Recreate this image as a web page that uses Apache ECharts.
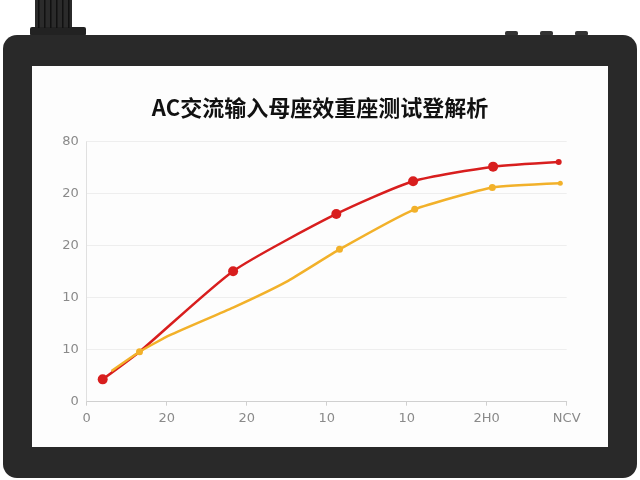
<!DOCTYPE html>
<html>
<head>
<meta charset="utf-8">
<script src="https://cdn.jsdelivr.net/npm/echarts@6/dist/echarts.min.js"></script>
<style>
  html, body { margin: 0; padding: 0; background: #fff; }
  #chart { width: 640px; height: 480px; }
</style>
</head>
<body>
<div id="chart"></div>
<script>
// 标题与刻度文字
let titleText = 'AC交流输入母座效重座测试登解析';
let xLabels = ['0', '20', '20', '10', '10', '2H0', 'NCV'];
let yLabels = ['0', '10', '10', '20', '20', '80'];

// 红线 (x 为刻度位置)
let redX = [0.2, 0.66, 1.83, 3.12, 4.08, 5.08, 5.9];
let redY = [4.3, 9.6, 25.1, 36.1, 42.4, 45.2, 46.1];

// 黄线
let yellowX = [0.31, 0.66, 1.04, 1.83, 2.5, 3.16, 4.1, 5.07, 5.92];
let yellowY = [5.9, 9.6, 12.8, 18.1, 23.1, 29.3, 37.0, 41.2, 42.0];

let redData = redX.map(function (x, i) { return [x, redY[i]]; });
let yellowData = yellowX.map(function (x, i) { return [x, yellowY[i]]; });

// 黄线上显示圆点的下标
let yellowDots = [1, 5, 6, 7, 8];

let chart = echarts.init(document.getElementById('chart'));

// 外框（显示器）
let bezel = [
    {type: 'rect', z: -10, shape: {x: 35, y: 0, width: 37, height: 30},
        style: {fill: '#2b2b2b'}},
    {type: 'rect', z: -10, shape: {x: 30, y: 27, width: 56, height: 9, r: 2},
        style: {fill: '#222'}},
    {type: 'rect', z: -10, shape: {x: 505, y: 31, width: 13, height: 5, r: 2}, style: {fill: '#333'}},
    {type: 'rect', z: -10, shape: {x: 540, y: 31, width: 13, height: 5, r: 2}, style: {fill: '#333'}},
    {type: 'rect', z: -10, shape: {x: 575, y: 31, width: 13, height: 5, r: 2}, style: {fill: '#333'}},
    {type: 'rect', z: -9, shape: {x: 3, y: 35, width: 634, height: 443, r: 14},
        style: {fill: '#292929'}},
    {type: 'rect', z: -8, shape: {x: 32, y: 66, width: 576, height: 381},
        style: {fill: '#fdfdfd'}}
];
// 旋钮上的竖纹
for (let i = 0; i < 6; i++) {
    bezel.push({type: 'rect', z: -9, shape: {x: 38 + i * 6, y: 0, width: 1.5, height: 28},
        style: {fill: '#111'}});
}

let option = {
    backgroundColor: '#fff',
    animation: false,
    graphic: bezel,
    title: {
        text: titleText,
        left: 'center',
        top: 92,
        textStyle: {
            fontFamily: 'Noto Sans CJK SC',
            fontSize: 22,
            fontWeight: 'bold',
            color: '#111'
        }
    },
    grid: {left: 86.7, right: 73.3, top: 141.7, bottom: 78.3},
    xAxis: {
        type: 'value',
        min: 0,
        max: 6,
        interval: 1,
        axisLine: {show: true, lineStyle: {color: '#d0d0d0'}},
        axisTick: {show: true, length: 4, lineStyle: {color: '#d0d0d0'}},
        splitLine: {show: false},
        axisLabel: {
            margin: 10,
            color: '#8a8a8a',
            fontSize: 13,
            fontFamily: 'DejaVu Sans',
            formatter: function (v) { return xLabels[Math.round(v)]; }
        }
    },
    yAxis: {
        type: 'value',
        min: 0,
        max: 50,
        interval: 10,
        axisLine: {show: true, lineStyle: {color: '#e0e0e0'}},
        axisTick: {show: false},
        splitLine: {lineStyle: {color: '#eeeeee'}},
        axisLabel: {
            margin: 8,
            color: '#8a8a8a',
            fontSize: 13,
            fontFamily: 'DejaVu Sans',
            formatter: function (v) { return yLabels[Math.round(v / 10)]; }
        }
    },
    series: [
        {
            name: 'red',
            type: 'line',
            data: redData,
            smooth: 0.2,
            symbol: 'circle',
            symbolSize: function (val, params) {
                if (params.dataIndex === 1) return 0;
                if (params.dataIndex === redData.length - 1) return 6;
                return 10;
            },
            lineStyle: {color: '#d81e1e', width: 2.5},
            itemStyle: {color: '#d81e1e'},
            z: 3
        },
        {
            name: 'yellow',
            type: 'line',
            data: yellowData,
            smooth: 0.15,
            symbol: 'circle',
            symbolSize: function (val, params) {
                if (yellowDots.indexOf(params.dataIndex) < 0) return 0;
                if (params.dataIndex === yellowData.length - 1) return 5;
                return 7;
            },
            lineStyle: {color: '#f2b12a', width: 2.5},
            itemStyle: {color: '#f2b12a'},
            z: 4
        }
    ]
};

chart.setOption(option);
</script>
</body>
</html>
